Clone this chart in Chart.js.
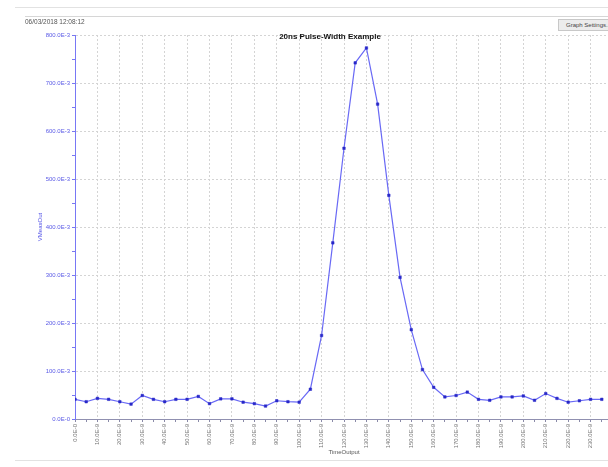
<!DOCTYPE html>
<html>
<head>
<meta charset="utf-8">
<script src="https://cdn.jsdelivr.net/npm/chart.js@4"></script>
<style>
  html, body { margin: 0; padding: 0; background: #fff; width: 608px; height: 467px; overflow: hidden; }
  #wrap { position: relative; width: 608px; height: 467px; overflow: hidden; }
  canvas { position: absolute; left: 0; top: 0; }
  .rule { position: absolute; height: 1px; background: #e2e2e2; }
  #stamp { position: absolute; left: 25px; top: 18px; font: 6.5px "Liberation Sans", Arial, sans-serif; color: #555; }
  #settings { position: absolute; left: 558px; top: 19px; width: 60px; height: 12px; box-sizing: border-box;
              border: 1px solid #c8c8c8; background: #ececec; font: 6px "Liberation Sans", Arial, sans-serif;
              color: #444; line-height: 10px; padding-left: 7px; white-space: nowrap; }
</style>
</head>
<body>
<div id="wrap">
  <canvas id="chart" width="620" height="467"></canvas>
  <div class="rule" style="left:15px; top:7px; width:600px;"></div>
  <div class="rule" style="left:25px; top:16px; width:590px; background:#d6d6d6;"></div>
  <div class="rule" style="left:15px; top:460px; width:600px;"></div>
  <div id="stamp">06/03/2018 12:08:12</div>
  <div id="settings">Graph Settings...</div>
</div>
<script>
// Sample times in nanoseconds (one sample every 5 ns)
const timesNs = [0, 5, 10, 15, 20, 25, 30, 35, 40, 45, 50, 55, 60, 65, 70, 75, 80, 85, 90, 95,
                 100, 105, 110, 115, 120, 125, 130, 135, 140, 145, 150, 155, 160, 165, 170, 175,
                 180, 185, 190, 195, 200, 205, 210, 215, 220, 225, 230, 235];

// Measured output voltage (V) at each sample
const vMeasOut = [0.041, 0.036, 0.043, 0.041, 0.036, 0.031, 0.049, 0.041, 0.036, 0.041,
                  0.041, 0.047, 0.032, 0.042, 0.042, 0.035, 0.032, 0.027, 0.038, 0.036,
                  0.035, 0.062, 0.174, 0.367, 0.564, 0.742, 0.773, 0.656, 0.466, 0.295,
                  0.186, 0.103, 0.066, 0.046, 0.049, 0.056, 0.041, 0.039, 0.046, 0.046,
                  0.048, 0.039, 0.053, 0.043, 0.035, 0.038, 0.041, 0.041];

// Labelled tick positions
const xTickNs = [0, 10, 20, 30, 40, 50, 60, 70, 80, 90, 100, 110, 120, 130, 140, 150,
                 160, 170, 180, 190, 200, 210, 220, 230];
const yTickMilli = [0, 100, 200, 300, 400, 500, 600, 700, 800];

const chartTitle = '20ns Pulse-Width Example';
const FONT = '"Liberation Sans", Arial, sans-serif';

const points = timesNs.map((t, i) => ({ x: t, y: vMeasOut[i] }));

const xLabel = v => v === 0 ? '0.0E-0' : v + '.0E-9';
const yLabel = mv => mv === 0 ? '0.0E-0' : mv + '.0E-3';

const titlePlugin = {
  id: 'plotTitle',
  afterDatasetsDraw(chart) {
    const ctx = chart.ctx;
    ctx.save();
    ctx.font = 'bold 8px ' + FONT;
    ctx.fillStyle = '#111';
    ctx.textAlign = 'center';
    ctx.textBaseline = 'middle';
    ctx.fillText(chartTitle, 330, 37);
    ctx.restore();
  }
};

new Chart(document.getElementById('chart'), {
  type: 'line',
  data: {
    datasets: [{
      data: points,
      borderColor: 'rgb(105,105,245)',
      borderWidth: 1.2,
      pointRadius: 1.8,
      pointHoverRadius: 1.8,
      pointStyle: 'rect',
      pointBackgroundColor: 'rgb(40,40,200)',
      pointBorderColor: 'rgb(40,40,200)',
      pointBorderWidth: 0.5,
      tension: 0
    }]
  },
  options: {
    responsive: false,
    devicePixelRatio: 1,
    animation: false,
    layout: { padding: { left: 0, top: 35, right: 7, bottom: 11 } },
    plugins: { legend: { display: false }, tooltip: { enabled: false }, title: { display: false } },
    scales: {
      x: {
        type: 'linear',
        min: 0,
        max: 240,
        afterFit: s => { s.height = 37; },
        afterBuildTicks: s => {
          const t = [];
          timesNs.forEach(v => t.push({ value: v }));
          s.ticks = t;
        },
        ticks: {
          autoSkip: false,
          minRotation: 90,
          maxRotation: 90,
          padding: 2,
          color: '#777',
          font: { family: FONT, size: 6 },
          callback: v => xTickNs.includes(v) ? xLabel(v) : ''
        },
        grid: {
          color: c => (c.tick && xTickNs.includes(c.tick.value) && c.tick.value !== 0) ? '#d4d4d4' : 'rgba(0,0,0,0)',
          lineWidth: 1,
          drawTicks: true,
          tickLength: 3,
          tickColor: '#8a8aa8',
          tickBorderDash: []
        },
        border: { display: true, color: '#9090b0', width: 1, dash: [2, 2] },
        title: {
          display: true,
          text: 'TimeOutput',
          color: '#555',
          font: { family: FONT, size: 6 },
          padding: { top: 2, bottom: 0 }
        }
      },
      y: {
        min: 0,
        max: 0.8,
        afterFit: s => { s.width = 75; },
        afterBuildTicks: s => {
          const t = [];
          yTickMilli.forEach((mv, i) => {
            t.push({ value: mv / 1000 });
            if (i < yTickMilli.length - 1) t.push({ value: (mv + 50) / 1000 });
          });
          s.ticks = t;
        },
        ticks: {
          autoSkip: false,
          padding: 2,
          color: 'rgb(90,90,230)',
          font: { family: FONT, size: 6 },
          callback: v => {
            const mv = Math.round(v * 1000);
            return yTickMilli.includes(mv) ? yLabel(mv) : '';
          }
        },
        grid: {
          color: c => {
            if (!c.tick) return 'rgba(0,0,0,0)';
            const mv = Math.round(c.tick.value * 1000);
            return (mv !== 0 && yTickMilli.includes(mv)) ? '#d4d4d4' : 'rgba(0,0,0,0)';
          },
          lineWidth: 1,
          drawTicks: true,
          tickLength: 3,
          tickColor: 'rgb(120,120,240)',
          tickBorderDash: []
        },
        border: { display: true, color: 'rgb(120,120,245)', width: 1, dash: [2, 2] },
        title: {
          display: true,
          text: 'VMeasOut',
          color: 'rgb(80,80,230)',
          font: { family: FONT, size: 6 },
          padding: { top: 37, bottom: 0 }
        }
      }
    }
  },
  plugins: [titlePlugin]
});
</script>
</body>
</html>
